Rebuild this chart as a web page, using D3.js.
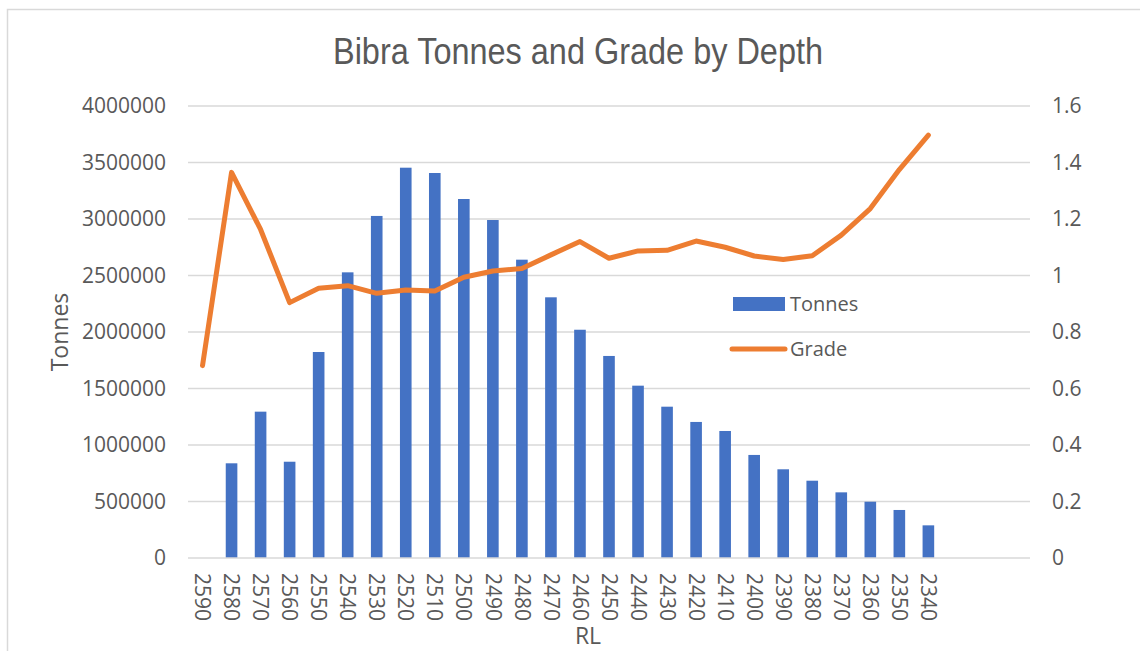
<!DOCTYPE html>
<html>

<head>
    <meta charset="utf-8">
    <title>Bibra Tonnes and Grade by Depth</title>
    <script src="https://d3js.org/d3.v7.min.js"></script>
    <style>
        body { margin: 0; background: #fff; }
        text { font-family: "Open Sans", "Noto Sans", sans-serif; fill: #595959; }
    </style>
</head>

<body>
    <div id="chart"></div>

    <script>
        // data
        const rl = [2590, 2580, 2570, 2560, 2550, 2540, 2530, 2520, 2510, 2500, 2490, 2480, 2470,
            2460, 2450, 2440, 2430, 2420, 2410, 2400, 2390, 2380, 2370, 2360, 2350, 2340];
        const tonnes = [null, 838000, 1295000, 852000, 1823000, 2528000, 3027000, 3454000, 3407000,
            3177000, 2991000, 2640000, 2307000, 2020000, 1788000, 1525000, 1339000, 1204000,
            1124000, 912000, 785000, 684000, 581000, 498000, 425000, 289000];
        const grade = [0.681, 1.365, 1.163, 0.904, 0.955, 0.964, 0.937, 0.949, 0.945, 0.994,
            1.016, 1.025, 1.073, 1.120, 1.061, 1.087, 1.089, 1.122, 1.100, 1.069, 1.057, 1.070,
            1.143, 1.237, 1.375, 1.497];
        const tonnesTicks = [0, 500000, 1000000, 1500000, 2000000, 2500000, 3000000, 3500000, 4000000];
        const gradeTicks = [0, 0.2, 0.4, 0.6, 0.8, 1, 1.2, 1.4, 1.6];
        const emptySlots = 3; // the source sheet has three trailing blank rows

        const W = 1140, H = 651;
        const margin = { top: 106, right: 110, bottom: 93, left: 188 };
        const width = W - margin.left - margin.right,
            height = H - margin.top - margin.bottom;

        const svg = d3.select("#chart")
            .append("svg")
            .attr("width", W)
            .attr("height", H);

        // chart frame
        svg.append("rect")
            .attr("x", 7.5).attr("y", 9.5)
            .attr("width", W + 20).attr("height", H + 20)
            .attr("fill", "none")
            .attr("stroke", "#d9d9d9")
            .attr("stroke-width", 1.5);

        const g = svg.append("g")
            .attr("transform", `translate(${margin.left}, ${margin.top})`);

        const x = d3.scaleBand()
            .domain(d3.range(rl.length + emptySlots))
            .range([0, width])
            .paddingInner(0.6)
            .paddingOuter(0.3);

        const yL = d3.scaleLinear().domain([0, 4000000]).range([height, 0]);
        const yR = d3.scaleLinear().domain([0, 1.6]).range([height, 0]);

        // gridlines
        g.append("g")
            .selectAll("line")
            .data(tonnesTicks.slice(1))
            .join("line")
            .attr("x1", 0).attr("x2", width)
            .attr("y1", d => yL(d)).attr("y2", d => yL(d))
            .attr("stroke", "#d9d9d9")
            .attr("stroke-width", 1.3);

        // left axis
        const axL = g.append("g")
            .call(d3.axisLeft(yL).tickValues(tonnesTicks).tickSize(0).tickPadding(22).tickFormat(d3.format("d")));
        axL.select(".domain").remove();
        axL.selectAll("text").style("font-size", "21px").style("fill", "#595959")
            .style("font-family", "'Open Sans', sans-serif");

        // right axis
        const axR = g.append("g")
            .attr("transform", `translate(${width}, 0)`)
            .call(d3.axisRight(yR).tickValues(gradeTicks).tickSize(0).tickPadding(22).tickFormat(d => String(+d.toFixed(1))));
        axR.select(".domain").remove();
        axR.selectAll("text").style("font-size", "21px").style("fill", "#595959")
            .style("font-family", "'Open Sans', sans-serif");

        // bars
        g.append("g")
            .selectAll("rect")
            .data(tonnes.map((v, i) => ({ i, v })).filter(d => d.v != null))
            .join("rect")
            .attr("x", d => x(d.i))
            .attr("y", d => yL(d.v))
            .attr("width", x.bandwidth())
            .attr("height", d => height - yL(d.v))
            .attr("fill", "#4472c4");

        // bottom axis line
        g.append("line")
            .attr("x1", 0).attr("x2", width)
            .attr("y1", height).attr("y2", height)
            .attr("stroke", "#d9d9d9")
            .attr("stroke-width", 1.3);

        // x tick labels, rotated
        g.append("g")
            .selectAll("text")
            .data(rl)
            .join("text")
            .attr("transform", (d, i) => `translate(${x(i) + x.bandwidth() / 2}, ${height + 15}) rotate(90)`)
            .attr("dy", "0.35em")
            .attr("text-anchor", "start")
            .style("font-size", "21px")
            .text(d => d);

        // grade line
        const line = d3.line()
            .x((d, i) => x(i) + x.bandwidth() / 2)
            .y(d => yR(d));
        g.append("path")
            .datum(grade)
            .attr("d", line)
            .attr("fill", "none")
            .attr("stroke", "#ed7d31")
            .attr("stroke-width", 5)
            .attr("stroke-linejoin", "round")
            .attr("stroke-linecap", "round");

        // title
        svg.append("text")
            .attr("x", 578)
            .attr("y", 64)
            .attr("text-anchor", "middle")
            .attr("textLength", 490)
            .attr("lengthAdjust", "spacingAndGlyphs")
            .style("font-family", "'Liberation Sans', Arial, sans-serif")
            .style("font-size", "36px")
            .text("Bibra Tonnes and Grade by Depth");

        // axis titles
        svg.append("text")
            .attr("transform", `translate(60, ${margin.top + height / 2}) rotate(-90)`)
            .attr("text-anchor", "middle")
            .attr("dy", "0.35em")
            .style("font-size", "23px")
            .text("Tonnes");

        svg.append("text")
            .attr("x", 588)
            .attr("y", 636)
            .attr("text-anchor", "middle")
            .attr("dy", "0.35em")
            .style("font-size", "23px")
            .text("RL");

        // legend
        const legend = svg.append("g");
        legend.append("rect")
            .attr("x", 733).attr("y", 297)
            .attr("width", 52).attr("height", 14)
            .attr("fill", "#4472c4");
        legend.append("text")
            .attr("x", 790).attr("y", 304)
            .attr("dy", "0.35em")
            .style("font-size", "20px")
            .text("Tonnes");
        legend.append("line")
            .attr("x1", 732).attr("x2", 785)
            .attr("y1", 349).attr("y2", 349)
            .attr("stroke", "#ed7d31")
            .attr("stroke-width", 5)
            .attr("stroke-linecap", "round");
        legend.append("text")
            .attr("x", 790).attr("y", 349)
            .attr("dy", "0.35em")
            .style("font-size", "20px")
            .text("Grade");
    </script>
</body>

</html>
